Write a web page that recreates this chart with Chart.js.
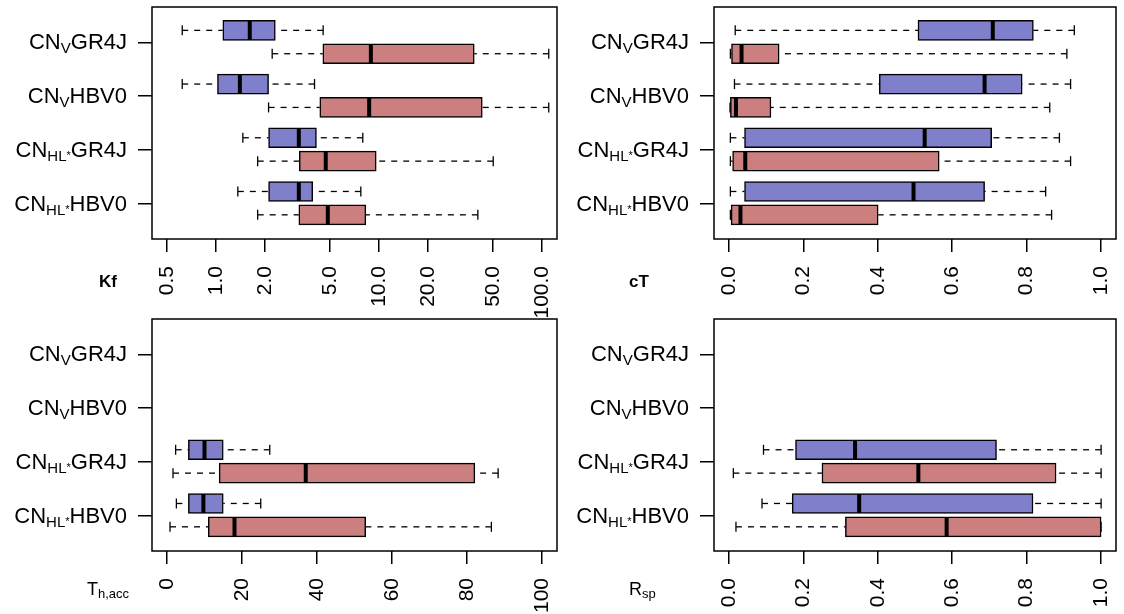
<!DOCTYPE html>
<html>
<head>
<meta charset="utf-8">
<script src="https://cdn.jsdelivr.net/npm/chart.js@4.4.1/dist/chart.umd.min.js"></script>
<style>
  body { margin: 0; background: #fff; width: 1124px; height: 614px; position: relative; overflow: hidden; }
  canvas { position: absolute; }
</style>
</head>
<body>
<canvas id="kf" width="562" height="345" style="left:0;top:0"></canvas>
<canvas id="ct" width="562" height="345" style="left:562px;top:0"></canvas>
<canvas id="th" width="562" height="302" style="left:0;top:312px"></canvas>
<canvas id="rsp" width="562" height="302" style="left:562px;top:312px"></canvas>
<script>
// model names, {..} = subscript
const categories = ['CN{V}GR4J', 'CN{V}HBV0', 'CN{HL*}GR4J', 'CN{HL*}HBV0'];

// each box: [whisker low, Q1, median, Q3, whisker high]
const kfBlue = [[0.62, 1.10, 1.61, 2.31, 4.54], [0.62, 1.02, 1.40, 2.10, 4.02], [1.46, 2.10, 3.22, 4.13, 7.95], [1.36, 2.10, 3.22, 3.92, 7.73]];
const kfRed = [[2.21, 4.52, 8.91, 38.4, 110], [2.10, 4.33, 8.70, 43.0, 110], [1.80, 3.24, 4.71, 9.61, 50.2], [1.80, 3.22, 4.85, 8.30, 40.4]];

const ctBlue = [[0.017, 0.508, 0.709, 0.818, 0.928], [0.015, 0.404, 0.687, 0.788, 0.918], [0.004, 0.042, 0.526, 0.706, 0.888], [0.004, 0.042, 0.496, 0.687, 0.851]];
const ctRed = [[0.004, 0.007, 0.034, 0.135, 0.908], [0.003, 0.004, 0.019, 0.113, 0.862], [0.004, 0.010, 0.044, 0.565, 0.918], [0.004, 0.006, 0.031, 0.401, 0.867]];

const thBlue = [null, null, [2.3, 5.7, 10.0, 15.0, 27.4], [2.5, 5.7, 9.7, 15.0, 25.0]];
const thRed = [null, null, [1.6, 13.9, 37.0, 82.1, 88.3], [0.8, 11.0, 18.0, 53.0, 86.5]];

const rspBlue = [null, null, [0.093, 0.179, 0.339, 0.719, 1.0], [0.089, 0.170, 0.350, 0.817, 1.0]];
const rspRed = [null, null, [0.012, 0.250, 0.509, 0.879, 1.0], [0.019, 0.313, 0.585, 1.0, 1.0]];

// axis ticks
const kfTicks = [0.5, 1, 2, 5, 10, 20, 50, 100];
const kfTickLabels = ['0.5', '1.0', '2.0', '5.0', '10.0', '20.0', '50.0', '100.0'];
const unitTicks = [0, 0.2, 0.4, 0.6, 0.8, 1];
const unitTickLabels = ['0.0', '0.2', '0.4', '0.6', '0.8', '1.0'];
const thTicks = [0, 20, 40, 60, 80, 100];
const thTickLabels = ['0', '20', '40', '60', '80', '100'];

const FONT = 'Liberation Sans, Arial, sans-serif';
const BLUE = '#7f7fcc';
const RED = '#cc7f7f';
const BLUE_OFF = -0.225;
const RED_OFF = 0.21;
const BOX_H = 20;

Chart.defaults.font.family = FONT;
Chart.defaults.color = '#000';

// split 'CN{HL*}GR4J' into normal / subscript pieces
function parseLabel(s) {
  const parts = [];
  s.split(/(\{[^}]*\})/).forEach(p => {
    if (!p) return;
    if (p[0] === '{') {
      const inner = p.slice(1, -1);
      const star = inner.endsWith('*');
      parts.push({ t: star ? inner.slice(0, -1) : inner, size: 15, dy: 4 });
      if (star) parts.push({ t: '*', size: 11, dy: 2 });
    } else {
      parts.push({ t: p, size: 22, dy: 0 });
    }
  });
  return parts;
}

function drawRich(ctx, parts, xRight, yBase) {
  let w = 0;
  parts.forEach(p => { ctx.font = `${p.size}px ${FONT}`; w += ctx.measureText(p.t).width; });
  let x = xRight - w;
  parts.forEach(p => {
    ctx.font = `${p.size}px ${FONT}`;
    ctx.fillText(p.t, x, yBase + p.dy);
    x += ctx.measureText(p.t).width;
  });
}

function line(ctx, x1, y1, x2, y2) {
  ctx.beginPath(); ctx.moveTo(x1, y1); ctx.lineTo(x2, y2); ctx.stroke();
}

const boxPlugin = {
  id: 'boxes',
  beforeDatasetsDraw(chart) {
    const { ctx, scales: { x, y } } = chart;
    const o = chart.options.plugins.boxes;
    ctx.save();
    ctx.strokeStyle = '#000';
    o.series.forEach(sr => sr.stats.forEach((s, i) => {
      if (!s) return;
      const yc = y.getPixelForValue(i + 1 + sr.offset);
      const [lo, q1, , q3, hi] = s.map(v => x.getPixelForValue(v));
      ctx.lineWidth = 1.3;
      ctx.setLineDash([6, 6]);
      line(ctx, lo, yc, q1, yc);
      line(ctx, hi, yc, q3, yc);
      ctx.setLineDash([]);
      line(ctx, lo, yc - BOX_H / 4, lo, yc + BOX_H / 4);
      line(ctx, hi, yc - BOX_H / 4, hi, yc + BOX_H / 4);
    }));
    ctx.restore();
  },
  afterDatasetsDraw(chart) {
    const { ctx, scales: { x, y } } = chart;
    const o = chart.options.plugins.boxes;
    ctx.save();
    ctx.strokeStyle = '#000';
    ctx.lineWidth = 4;
    o.series.forEach(sr => sr.stats.forEach((s, i) => {
      if (!s) return;
      const yc = y.getPixelForValue(i + 1 + sr.offset);
      const md = x.getPixelForValue(s[2]);
      line(ctx, md, yc - BOX_H / 2 + 0.5, md, yc + BOX_H / 2 - 0.5);
    }));
    ctx.restore();
  },
  afterDraw(chart) {
    const { ctx, chartArea: a, scales: { y } } = chart;
    const o = chart.options.plugins.boxes;
    ctx.save();
    ctx.strokeStyle = '#000';
    ctx.lineWidth = 1.5;
    ctx.strokeRect(a.left, a.top, a.right - a.left, a.bottom - a.top);
    ctx.fillStyle = '#000';
    ctx.textBaseline = 'alphabetic';
    categories.forEach((c, i) => {
      drawRich(ctx, parseLabel(c), a.left - 25, y.getPixelForValue(i + 1) + 7);
    });
    ctx.textAlign = 'left';
    const t = o.title;
    let tx = t.x;
    t.parts.forEach(p => {
      ctx.font = `${p.bold ? 'bold ' : ''}${p.size}px ${FONT}`;
      ctx.fillText(p.t, tx, t.y + (p.dy || 0));
      tx += ctx.measureText(p.t).width;
    });
    ctx.restore();
  }
};

function makePanel(id, p) {
  const canvas = document.getElementById(id);
  const toData = (stats, off) => stats
    .map((s, i) => s ? { y: i + 1 + off, x: [s[1], s[3]] } : null)
    .filter(Boolean);
  new Chart(canvas, {
    type: 'bar',
    plugins: [boxPlugin],
    data: {
      datasets: [
        { data: toData(p.blue, BLUE_OFF), backgroundColor: BLUE },
        { data: toData(p.red, RED_OFF), backgroundColor: RED }
      ]
    },
    options: {
      indexAxis: 'y',
      responsive: false,
      animation: false,
      devicePixelRatio: 1,
      layout: { padding: { left: 0, top: 7, right: p.right, bottom: 0 } },
      datasets: {
        bar: { grouped: false, barThickness: BOX_H, borderColor: '#000', borderWidth: 1.5, borderSkipped: false }
      },
      plugins: {
        legend: { display: false },
        tooltip: { enabled: false },
        boxes: { series: [{ stats: p.blue, offset: BLUE_OFF }, { stats: p.red, offset: RED_OFF }], title: p.title }
      },
      scales: {
        y: {
          type: 'linear',
          reverse: true,
          offset: false,
          min: 0.34,
          max: 4.66,
          afterBuildTicks: s => { s.ticks = [1, 2, 3, 4].map(v => ({ value: v })); },
          afterFit: s => { s.width = 152; s.paddingTop = 0; s.paddingBottom = 0; },
          ticks: { callback: () => '' },
          grid: { offset: false, drawOnChartArea: false, drawTicks: true, tickLength: 14, color: '#000', lineWidth: 1.5 },
          border: { display: false }
        },
        x: {
          type: p.type,
          offset: false,
          min: p.min,
          max: p.max,
          afterBuildTicks: s => { s.ticks = p.ticks.map(v => ({ value: v })); },
          afterFit: s => { s.height = canvas.height - 239; s.paddingLeft = 0; s.paddingRight = 0; },
          ticks: {
            autoSkip: false,
            minRotation: 90,
            maxRotation: 90,
            padding: 14,
            font: { size: 21 },
            callback: (v, i) => p.tickLabels[i]
          },
          grid: { offset: false, drawOnChartArea: false, drawTicks: true, tickLength: 13, color: '#000', lineWidth: 1.5 },
          border: { display: false }
        }
      }
    }
  });
}

makePanel('kf', {
  type: 'logarithmic', min: 0.4045, max: 123.6, ticks: kfTicks, tickLabels: kfTickLabels,
  blue: kfBlue, red: kfRed, right: 5,
  title: { x: 99, y: 287, parts: [{ t: 'Kf', size: 17, bold: true }] }
});
makePanel('ct', {
  type: 'linear', min: -0.04, max: 1.04, ticks: unitTicks, tickLabels: unitTickLabels,
  blue: ctBlue, red: ctRed, right: 8,
  title: { x: 67, y: 287, parts: [{ t: 'cT', size: 17, bold: true }] }
});
makePanel('th', {
  type: 'linear', min: -4, max: 104, ticks: thTicks, tickLabels: thTickLabels,
  blue: thBlue, red: thRed, right: 5,
  title: { x: 87, y: 283, parts: [{ t: 'T', size: 18 }, { t: 'h,acc', size: 13, dy: 3 }] }
});
makePanel('rsp', {
  type: 'linear', min: -0.04, max: 1.04, ticks: unitTicks, tickLabels: unitTickLabels,
  blue: rspBlue, red: rspRed, right: 8,
  title: { x: 67, y: 283, parts: [{ t: 'R', size: 18 }, { t: 'sp', size: 13, dy: 3 }] }
});
</script>
</body>
</html>
